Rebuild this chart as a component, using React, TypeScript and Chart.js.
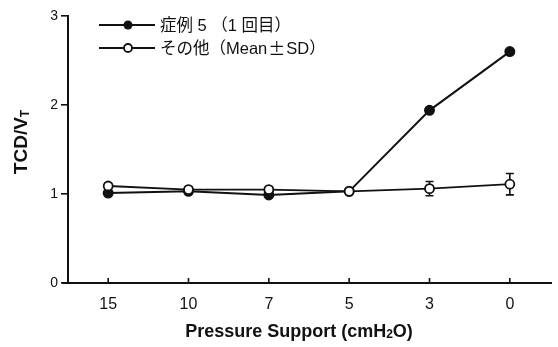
import React, { useEffect, useRef } from "react";
import { Chart, registerables } from "chart.js";

Chart.register(...registerables);

const categories = ["15", "10", "7", "5", "3", "0"];
const case5Values = [1.01, 1.03, 0.99, 1.03, 1.94, 2.6];
const otherMean = [1.09, 1.05, 1.05, 1.03, 1.06, 1.11];
const otherSD = [0.03, 0.03, 0.03, 0.02, 0.08, 0.12];
const yTicks = [0, 1, 2, 3];
const legendLabels = ["症例 5 （1 回目）", "その他（Mean±SD）"];
const xTitle = ["Pressure Support (cmH", "2", "O)"];
const yTitle = ["TCD/V", "T"];

const FONT = "'Liberation Sans', Arial, Helvetica, sans-serif";
const JFONT = "'Liberation Sans', 'Noto Sans CJK JP', sans-serif";
const CJK = "'Noto Sans CJK JP', sans-serif";

export default function App() {
  const ref = useRef<HTMLCanvasElement | null>(null);
  useEffect(() => {
    if (!ref.current) return;
    const drawSegments = (ctx: any, text: string, x: number, y: number) => {
      // draw text, widening the ± sign as in the reference
      const parts = text.split("±");
      let cx = x;
      parts.forEach((p, i) => {
        ctx.font = `16.5px ${JFONT}`;
        ctx.fillText(p, cx, y);
        cx += ctx.measureText(p).width;
        if (i < parts.length - 1) {
          ctx.font = `17px ${CJK}`;
          ctx.fillText("±", cx + 1, y);
          cx += ctx.measureText("±").width + 2;
        }
      });
    };
    const decor = {
      id: "decor",
      beforeDatasetsDraw(chart: any) {
        const ctx = chart.ctx;
        const x = chart.scales.x;
        const y = chart.scales.y;
        ctx.save();
        ctx.strokeStyle = "#111";
        ctx.lineWidth = 1.6;
        otherMean.forEach((m, i) => {
          const px = x.getPixelForValue(i);
          const top = y.getPixelForValue(m + otherSD[i]);
          const bot = y.getPixelForValue(m - otherSD[i]);
          ctx.beginPath();
          ctx.moveTo(px, top);
          ctx.lineTo(px, bot);
          ctx.moveTo(px - 4, top);
          ctx.lineTo(px + 4, top);
          ctx.moveTo(px - 4, bot);
          ctx.lineTo(px + 4, bot);
          ctx.stroke();
        });
        ctx.restore();
      },
      afterDraw(chart: any) {
        const ctx = chart.ctx;
        const x = chart.scales.x;
        const area = chart.chartArea;
        ctx.save();
        ctx.strokeStyle = "#111";
        ctx.lineWidth = 2;
        // x axis line
        ctx.beginPath();
        ctx.moveTo(area.left - 6, area.bottom);
        ctx.lineTo(area.right + 2, area.bottom);
        ctx.stroke();
        // x ticks inward
        ctx.lineWidth = 1.6;
        categories.forEach((_, i) => {
          const px = x.getPixelForValue(i);
          ctx.beginPath();
          ctx.moveTo(px, area.bottom);
          ctx.lineTo(px, area.bottom - 5);
          ctx.stroke();
        });
        // legend
        const rows = [25, 48];
        rows.forEach((ry, i) => {
          ctx.lineWidth = 2;
          ctx.beginPath();
          ctx.moveTo(99, ry);
          ctx.lineTo(155, ry);
          ctx.stroke();
          ctx.beginPath();
          ctx.arc(128, ry, i === 0 ? 4.5 : 4, 0, Math.PI * 2);
          if (i === 0) {
            ctx.fillStyle = "#111";
            ctx.fill();
          } else {
            ctx.fillStyle = "#fff";
            ctx.fill();
            ctx.lineWidth = 1.8;
            ctx.stroke();
          }
          ctx.fillStyle = "#111";
          ctx.textBaseline = "middle";
          ctx.textAlign = "left";
          drawSegments(ctx, legendLabels[i], 160, ry + 1);
        });
        // x title
        ctx.fillStyle = "#111";
        ctx.textBaseline = "alphabetic";
        ctx.font = `bold 18px ${FONT}`;
        const w0 = ctx.measureText(xTitle[0]).width;
        ctx.font = `bold 12px ${FONT}`;
        const w1 = ctx.measureText(xTitle[1]).width;
        ctx.font = `bold 18px ${FONT}`;
        const w2 = ctx.measureText(xTitle[2]).width;
        const sx = 299 - (w0 + w1 + w2) / 2;
        const by = 337;
        ctx.fillText(xTitle[0], sx, by);
        ctx.font = `bold 12px ${FONT}`;
        ctx.fillText(xTitle[1], sx + w0, by + 1);
        ctx.font = `bold 18px ${FONT}`;
        ctx.fillText(xTitle[2], sx + w0 + w1, by);
        // y title
        ctx.translate(27, 142);
        ctx.rotate(-Math.PI / 2);
        ctx.font = `bold 19px ${FONT}`;
        const t0 = ctx.measureText(yTitle[0]).width;
        ctx.font = `bold 12px ${FONT}`;
        const t1 = ctx.measureText(yTitle[1]).width;
        const s0 = -(t0 + t1) / 2;
        ctx.font = `bold 19px ${FONT}`;
        ctx.fillText(yTitle[0], s0, 0);
        ctx.font = `bold 12px ${FONT}`;
        ctx.fillText(yTitle[1], s0 + t0, 2);
        ctx.restore();
      },
    };
    const chart = new Chart(ref.current, {
      type: "line",
      data: {
        labels: categories,
        datasets: [
          {
            label: legendLabels[1],
            data: otherMean,
            borderColor: "#111",
            borderWidth: 1.8,
            pointRadius: 4.5,
            pointBackgroundColor: "#fff",
            pointBorderColor: "#111",
            pointBorderWidth: 1.8,
            order: 0,
          },
          {
            label: legendLabels[0],
            data: case5Values,
            borderColor: "#111",
            borderWidth: 2,
            pointRadius: 4.5,
            pointBackgroundColor: "#111",
            pointBorderColor: "#111",
            order: 1,
          },
        ],
      },
      plugins: [decor],
      options: {
        animation: false,
        responsive: false,
        maintainAspectRatio: false,
        layout: { padding: { left: 0, top: 16, right: 8, bottom: 0 } },
        plugins: { legend: { display: false }, tooltip: { enabled: false } },
        scales: {
          x: {
            type: "category",
            offset: true,
            border: { display: false },
            grid: { display: false, drawTicks: false },
            ticks: { color: "#111", font: { size: 16, family: FONT }, padding: 12 },
            afterFit: (s: any) => {
              s.height = 64;
            },
          },
          y: {
            min: 0,
            max: 3,
            border: { display: true, color: "#111", width: 2 },
            grid: {
              drawOnChartArea: false,
              drawTicks: true,
              tickLength: 7,
              color: "#111",
              lineWidth: 1.6,
            },
            afterBuildTicks: (s: any) => {
              s.ticks = yTicks.map((v) => ({ value: v }));
            },
            ticks: { color: "#111", font: { size: 14, family: FONT }, padding: 3 },
            afterFit: (s: any) => {
              s.width = 68;
            },
          },
        },
      },
    });
    return () => chart.destroy();
  }, []);
  return (
    <div style={{ position: "fixed", left: 0, top: 0, width: 558, height: 347, background: "#fff" }}>
      <canvas ref={ref} width={558} height={347} style={{ width: 558, height: 347 }} />
    </div>
  );
}
